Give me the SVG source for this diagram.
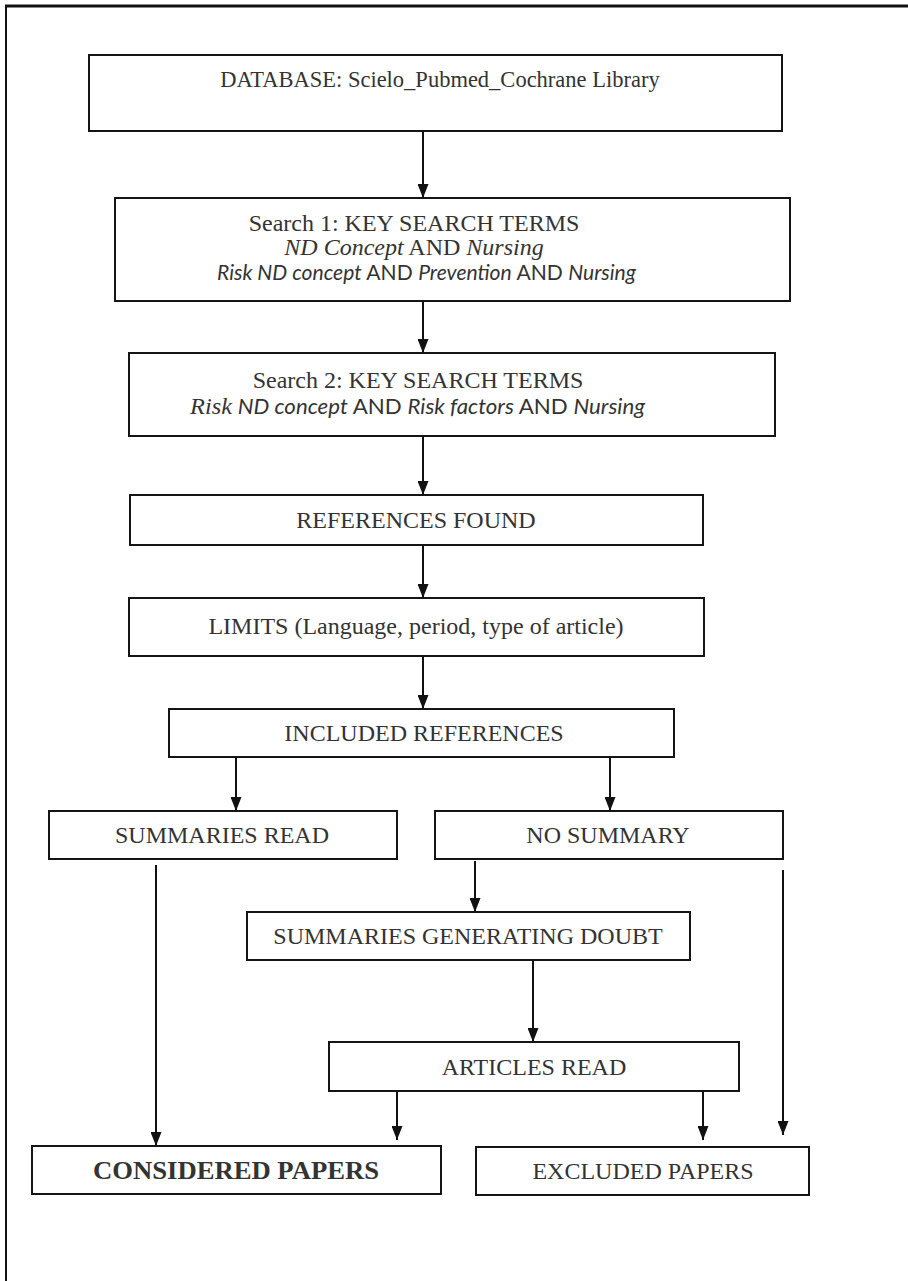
<svg xmlns="http://www.w3.org/2000/svg" width="908" height="1281" viewBox="0 0 908 1281">
<style>
.box{fill:#fff;stroke:#151515;stroke-width:2}
.t{font-family:"Liberation Serif","Times New Roman",serif;font-size:24px;fill:#333;text-anchor:middle}
.s{font-family:Lato,"Open Sans",sans-serif;font-size:21px;fill:#333}
.i{font-style:italic}
.c{stroke:#111;stroke-width:2;fill:none}
.ca{stroke:#111;stroke-width:2;fill:none;marker-end:url(#ah)}
.frame{stroke:#111;fill:none}
</style>
<defs>
<marker id="ah" viewBox="0 0 14 11" refX="14" refY="5.5" markerWidth="14" markerHeight="11" markerUnits="userSpaceOnUse" orient="auto">
<path d="M0,0 L14,5.5 L0,11 z" fill="#111"/>
</marker>
</defs>
<rect width="908" height="1281" fill="#fff"/>
<g id="frame">
<line class="frame" x1="5" y1="6" x2="908" y2="6" stroke-width="3"/>
<line class="frame" x1="6" y1="5" x2="6" y2="1281" stroke-width="2"/>
</g>
<g id="connectors">
<line class="ca" x1="423" y1="131" x2="423" y2="198"/>
<line class="ca" x1="423" y1="301" x2="423" y2="353"/>
<line class="ca" x1="423" y1="436" x2="423" y2="495"/>
<line class="ca" x1="423" y1="545" x2="423" y2="598"/>
<line class="ca" x1="423" y1="656" x2="423" y2="709"/>
<line class="ca" x1="236" y1="757" x2="236" y2="811"/>
<line class="ca" x1="610" y1="757" x2="610" y2="811"/>
<line class="ca" x1="156" y1="865" x2="156" y2="1146"/>
<line class="ca" x1="475" y1="861" x2="475" y2="912"/>
<line class="ca" x1="533" y1="960" x2="533" y2="1042"/>
<line class="ca" x1="397" y1="1091" x2="397" y2="1140"/>
<line class="ca" x1="703" y1="1091" x2="703" y2="1140"/>
<line class="ca" x1="783" y1="870" x2="783" y2="1135"/>
</g>
<g id="database">
<rect class="box" x="89" y="55" width="693" height="76"/>
<text class="t" x="440" y="87" style="font-size:22.5px">DATABASE: Scielo_Pubmed_Cochrane Library</text>
</g>
<g id="search1">
<rect class="box" x="115" y="198" width="675" height="103"/>
<text class="t" x="414" y="231">Search 1: KEY SEARCH TERMS</text>
<text class="t" x="414" y="255"><tspan class="i">ND Concept</tspan> AND <tspan class="i">Nursing</tspan></text>
<text class="s" x="217" y="280" textLength="419" lengthAdjust="spacingAndGlyphs"><tspan class="i">Risk ND concept</tspan> AND <tspan class="i">Prevention</tspan> AND <tspan class="i">Nursing</tspan></text>
</g>
<g id="search2">
<rect class="box" x="129" y="353" width="646" height="83"/>
<text class="t" x="418" y="388">Search 2: KEY SEARCH TERMS</text>
<text class="s" x="190" y="414" textLength="455" lengthAdjust="spacingAndGlyphs"><tspan class="i" style="font-family:'Liberation Serif',serif;font-size:23px">Risk</tspan> <tspan class="i">ND concept</tspan> AND <tspan class="i">Risk factors</tspan> AND <tspan class="i">Nursing</tspan></text>
</g>
<g id="references-found">
<rect class="box" x="130" y="495" width="573" height="50"/>
<text class="t" x="416" y="528">REFERENCES FOUND</text>
</g>
<g id="limits">
<rect class="box" x="129" y="598" width="575" height="58"/>
<text class="t" x="416" y="634">LIMITS (Language, period, type of article)</text>
</g>
<g id="included-references">
<rect class="box" x="169" y="709" width="505" height="48"/>
<text class="t" x="424" y="741">INCLUDED REFERENCES</text>
</g>
<g id="summaries-read">
<rect class="box" x="49" y="811" width="348" height="48"/>
<text class="t" x="222" y="843">SUMMARIES READ</text>
</g>
<g id="no-summary">
<rect class="box" x="435" y="811" width="348" height="48"/>
<text class="t" x="608" y="843">NO SUMMARY</text>
</g>
<g id="summaries-generating-doubt">
<rect class="box" x="247" y="912" width="443" height="48"/>
<text class="t" x="468" y="944">SUMMARIES GENERATING DOUBT</text>
</g>
<g id="articles-read">
<rect class="box" x="329" y="1042" width="410" height="49"/>
<text class="t" x="534" y="1075">ARTICLES READ</text>
</g>
<g id="considered-papers">
<rect class="box" x="32" y="1146" width="409" height="48"/>
<text class="t" x="236" y="1179" style="font-weight:bold;font-size:25px" textLength="286" lengthAdjust="spacingAndGlyphs">CONSIDERED PAPERS</text>
</g>
<g id="excluded-papers">
<rect class="box" x="476" y="1147" width="333" height="48"/>
<text class="t" x="643" y="1179">EXCLUDED PAPERS</text>
</g>
</svg>
